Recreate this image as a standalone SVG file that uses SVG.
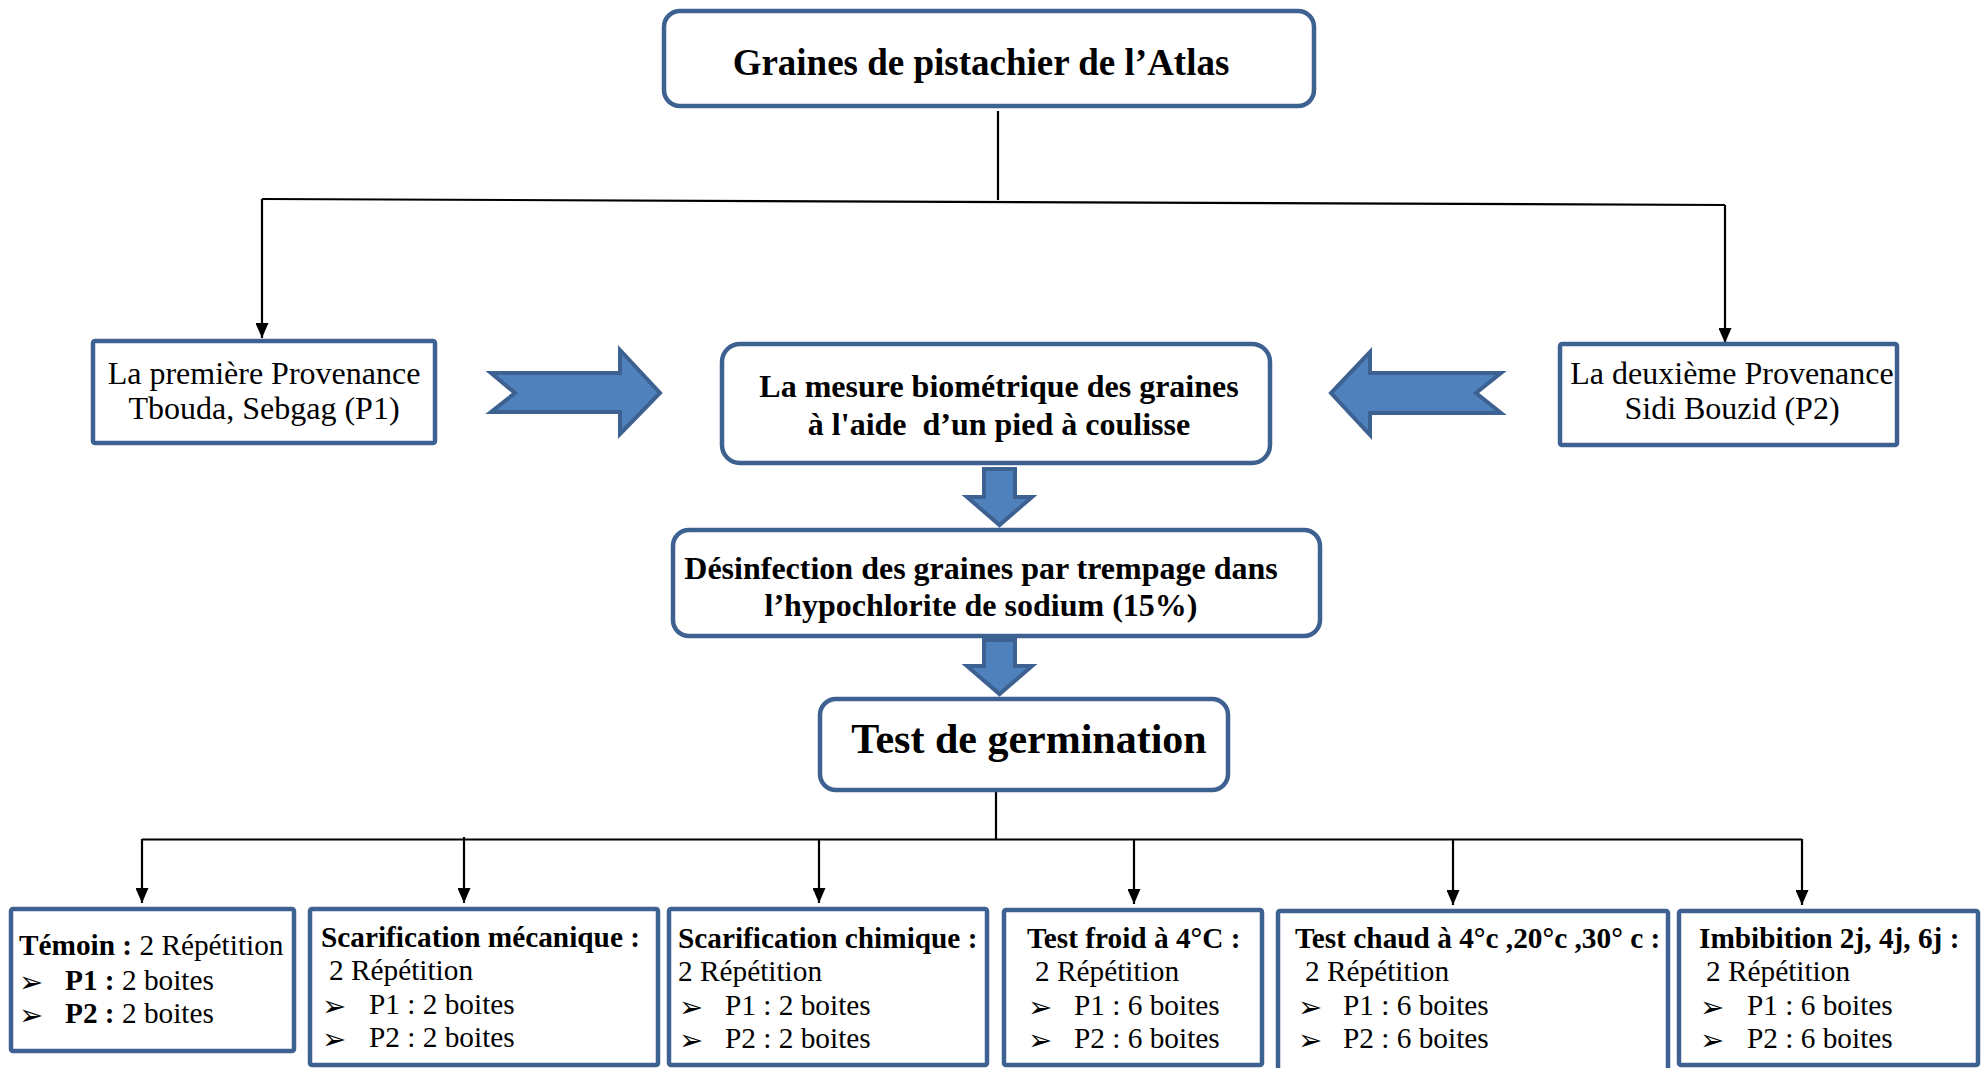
<svg xmlns="http://www.w3.org/2000/svg" width="1986" height="1068" viewBox="0 0 1986 1068">
<style>
.box{fill:#fff;stroke:#3D6190;stroke-width:4.5}
.ln{fill:none;stroke:#000;stroke-width:2.2}
.blk{fill:#4F81BD;stroke:#3D6190;stroke-width:4;stroke-linejoin:miter}
text{font-family:"Liberation Serif","Times New Roman",serif;fill:#000}
.t{font-size:37px;font-weight:bold;text-anchor:middle}
.r{font-size:32px;text-anchor:middle}
.m{font-size:32px;font-weight:bold;text-anchor:middle}
.g{font-size:42px;font-weight:bold;text-anchor:middle}
.s{font-size:29.3px}
.b{font-weight:bold}
.bul{font-family:"DejaVu Sans",sans-serif;font-size:29px}
</style>
<defs>
<marker id="ah" markerUnits="userSpaceOnUse" viewBox="0 0 15 13" refX="15" refY="6.5" markerWidth="15" markerHeight="13" orient="auto">
<path d="M0,0 L15,6.5 L0,13 z" fill="#000"/>
</marker>
</defs>
<rect width="1986" height="1068" fill="#fff"/>

<g id="connectors">
<path class="ln" d="M998,111 V200"/>
<path class="ln" d="M262,199 L1725,205"/>
<path class="ln" d="M262,199 V338" marker-end="url(#ah)"/>
<path class="ln" d="M1725,205 V343" marker-end="url(#ah)"/>
<path class="ln" d="M996,792 V840"/>
<path class="ln" d="M142,839.5 H1802"/>
<path class="ln" d="M142,839 V903" marker-end="url(#ah)"/>
<path class="ln" d="M464,837 V903" marker-end="url(#ah)"/>
<path class="ln" d="M819,839 V903" marker-end="url(#ah)"/>
<path class="ln" d="M1134,839 V904" marker-end="url(#ah)"/>
<path class="ln" d="M1453,839 V905" marker-end="url(#ah)"/>
<path class="ln" d="M1802,839 V905" marker-end="url(#ah)"/>
</g>

<g id="n-graines">
<rect class="box" x="664" y="11" width="650" height="95" rx="16"/>
<text class="t" x="981" y="75">Graines de pistachier de l’Atlas</text>
</g>

<g id="n-p1">
<rect class="box" x="93" y="341" width="342" height="102" rx="2"/>
<text class="r" x="264" y="384">La première Provenance</text>
<text class="r" x="264" y="419">Tbouda, Sebgag (P1)</text>
</g>

<g id="n-p2">
<rect class="box" x="1560" y="344" width="337" height="101" rx="2"/>
<text class="r" x="1732" y="384">La deuxième Provenance</text>
<text class="r" x="1732" y="419">Sidi Bouzid (P2)</text>
</g>

<g id="n-mesure">
<rect class="box" x="722" y="344" width="548" height="119" rx="18"/>
<text class="m" x="999" y="397">La mesure biométrique des graines</text>
<text class="m" x="999" y="435" xml:space="preserve">à l'aide  d’un pied à coulisse</text>
</g>

<g id="n-desinfection">
<rect class="box" x="673" y="530" width="647" height="106" rx="16"/>
<text class="m" x="981" y="579">Désinfection des graines par trempage dans</text>
<text class="m" x="981" y="616">l’hypochlorite de sodium (15%)</text>
</g>

<g id="n-test">
<rect class="box" x="820" y="699" width="408" height="91" rx="16"/>
<text class="g" x="1029" y="753">Test de germination</text>
</g>

<g id="block-arrows">
<polygon class="blk" points="491,373 620,373 620,350 660,393 620,434 620,412 491,412 515,393"/>
<polygon class="blk" points="1501,373 1370,373 1370,352 1331,393 1370,435 1370,413 1501,413 1476,393"/>
<polygon class="blk" points="984,469 1015,469 1015,497 1032,497 999.5,525 967,497 984,497"/>
<polygon class="blk" points="984,640 1015,640 1015,666 1032,666 999.5,694 967,666 984,666"/>
</g>

<g id="n-temoin">
<rect class="box" x="11" y="909" width="283" height="142" rx="2"/>
<text class="s" x="19" y="955"><tspan class="b">Témoin :</tspan> 2 Répétition</text>
<text class="bul" x="19" y="992">➢</text>
<text class="s" x="65" y="990"><tspan class="b">P1 :</tspan> 2 boites</text>
<text class="bul" x="19" y="1025">➢</text>
<text class="s" x="65" y="1023"><tspan class="b">P2 :</tspan> 2 boites</text>
</g>

<g id="n-mecanique">
<rect class="box" x="310" y="909" width="348" height="156" rx="2"/>
<text class="s b" x="321" y="947">Scarification mécanique :</text>
<text class="s" x="329" y="980">2 Répétition</text>
<text class="bul" x="322" y="1016">➢</text>
<text class="s" x="369" y="1014">P1 : 2 boites</text>
<text class="bul" x="322" y="1049">➢</text>
<text class="s" x="369" y="1047">P2 : 2 boites</text>
</g>

<g id="n-chimique">
<rect class="box" x="669" y="909" width="318" height="156" rx="2"/>
<text class="s b" x="678" y="948">Scarification chimique :</text>
<text class="s" x="678" y="981">2 Répétition</text>
<text class="bul" x="679" y="1017">➢</text>
<text class="s" x="725" y="1015">P1 : 2 boites</text>
<text class="bul" x="679" y="1050">➢</text>
<text class="s" x="725" y="1048">P2 : 2 boites</text>
</g>

<g id="n-froid">
<rect class="box" x="1004" y="910" width="258" height="155" rx="2"/>
<text class="s b" x="1027" y="948">Test froid à 4°C :</text>
<text class="s" x="1035" y="981">2 Répétition</text>
<text class="bul" x="1028" y="1017">➢</text>
<text class="s" x="1074" y="1015">P1 : 6 boites</text>
<text class="bul" x="1028" y="1050">➢</text>
<text class="s" x="1074" y="1048">P2 : 6 boites</text>
</g>

<g id="n-chaud">
<rect class="box" x="1278" y="911" width="390" height="170" rx="2"/>
<text class="s b" x="1295" y="948">Test chaud à 4°c ,20°c ,30° c :</text>
<text class="s" x="1305" y="981">2 Répétition</text>
<text class="bul" x="1298" y="1017">➢</text>
<text class="s" x="1343" y="1015">P1 : 6 boites</text>
<text class="bul" x="1298" y="1050">➢</text>
<text class="s" x="1343" y="1048">P2 : 6 boites</text>
</g>

<g id="n-imbibition">
<rect class="box" x="1679" y="911" width="299" height="154" rx="2"/>
<text class="s b" x="1699" y="948">Imbibition 2j, 4j, 6j :</text>
<text class="s" x="1706" y="981">2 Répétition</text>
<text class="bul" x="1700" y="1017">➢</text>
<text class="s" x="1747" y="1015">P1 : 6 boites</text>
<text class="bul" x="1700" y="1050">➢</text>
<text class="s" x="1747" y="1048">P2 : 6 boites</text>
</g>
</svg>
